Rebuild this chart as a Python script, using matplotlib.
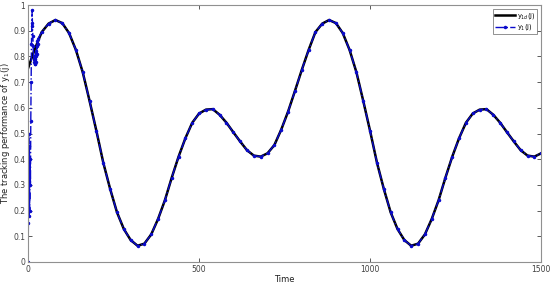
import matplotlib
matplotlib.use('Agg')
import matplotlib.pyplot as plt
import numpy as np

# desired trajectory y_1d(j), every 20 steps
t_ref = list(range(0, 1501, 20))
y_ref = [0.754, 0.830, 0.895, 0.928, 0.942, 0.930, 0.891, 0.825, 0.738, 0.626,
         0.509, 0.386, 0.284, 0.193, 0.128, 0.085, 0.063, 0.071, 0.107, 0.167,
         0.240, 0.328, 0.410, 0.482, 0.542, 0.578, 0.593, 0.595, 0.573, 0.542,
         0.505, 0.469, 0.435, 0.414, 0.410, 0.423, 0.455, 0.515, 0.585, 0.665,
         0.747, 0.825, 0.895, 0.928, 0.942, 0.930, 0.891, 0.825, 0.738, 0.626,
         0.509, 0.386, 0.284, 0.193, 0.128, 0.085, 0.063, 0.071, 0.107, 0.167,
         0.240, 0.328, 0.410, 0.482, 0.542, 0.578, 0.593, 0.595, 0.573, 0.542,
         0.505, 0.469, 0.435, 0.414, 0.410, 0.423]

# actual output y_1(j): start-up transient (every step) then tracking
t_start = list(range(0, 30))
y_start = [0.0, 0.15, 0.50, 0.18, 0.45, 0.20, 0.40, 0.30, 0.55, 0.70,
           0.85, 0.93, 0.98, 0.92, 0.88, 0.84, 0.80, 0.78, 0.80, 0.77,
           0.79, 0.77, 0.80, 0.82, 0.78, 0.84, 0.81, 0.86, 0.85, 0.87]
t_track = t_ref[2:]
y_track = y_ref[2:]

t_out = t_start + t_track
y_out = y_start + y_track

fig = plt.figure(figsize=(5.5, 2.85), dpi=100)
ax = fig.add_axes([0.051, 0.081, 0.933, 0.901])

ax.plot(t_ref, y_ref, color='black', lw=1.8, label='y$_{1d}$(j)')
ax.plot(t_out, y_out, color='#0a0acc', lw=1.0, ls='-.', marker='.', ms=3,
        label='y$_1$(j)')

ax.set_xlim(0, 1500)
ax.set_ylim(0, 1)
ax.set_xticks([0, 500, 1000, 1500])
ax.set_yticks(np.arange(0, 1.01, 0.1))
ax.set_yticklabels(['0', '0.1', '0.2', '0.3', '0.4', '0.5', '0.6', '0.7', '0.8', '0.9', '1'])
ax.tick_params(direction='in', top=True, right=True, labelsize=5.5, length=3,
               width=0.6, colors='#404040', pad=2)
for s in ax.spines.values():
    s.set_color('#909090')
    s.set_linewidth(0.8)

ax.set_xlabel('Time', fontsize=6, labelpad=1, color='#202020')
ax.set_ylabel('The tracking performance of y$_1$(j)', fontsize=6, labelpad=1,
              color='#202020')

leg = ax.legend(loc='upper right', fontsize=4.8, frameon=True, fancybox=False,
                handlelength=3, borderpad=0.3, labelspacing=0.2,
                borderaxespad=0.6, handletextpad=0.3)
leg.get_frame().set_edgecolor('#606060')
leg.get_frame().set_linewidth(0.6)

fig.savefig('out.png', dpi=100)
